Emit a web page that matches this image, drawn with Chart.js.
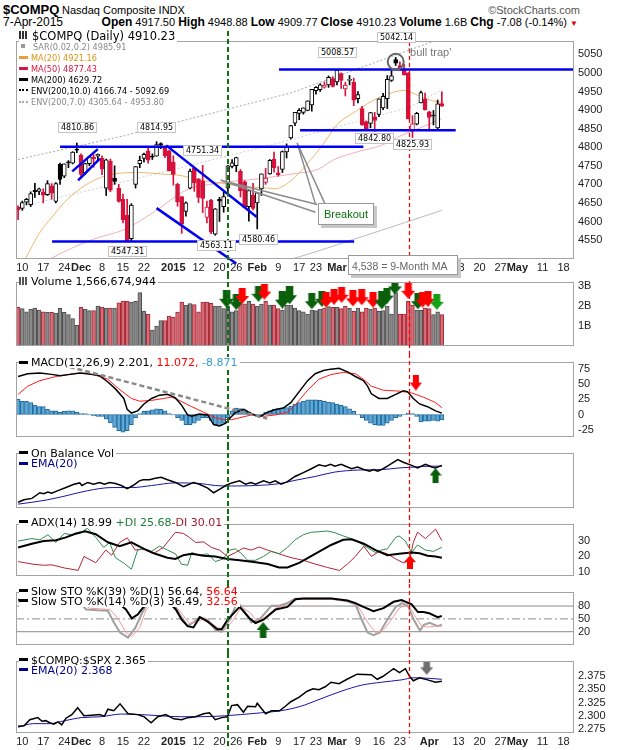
<!DOCTYPE html>
<html>
<head>
<meta charset="utf-8">
<title>$COMPQ Nasdaq Composite</title>
<script src="https://cdn.jsdelivr.net/npm/chart.js@4.4.1/dist/chart.umd.min.js"></script>
<style>
  html, body { margin: 0; padding: 0; background: #fff; }
  #page { position: relative; width: 620px; height: 750px; overflow: hidden; font-family: "Liberation Sans", Arial, sans-serif; color: #000; }
  #page canvas { position: absolute; left: 0; z-index: 1; }
  .t { position: absolute; white-space: nowrap; z-index: 3; }
  .lg { position: absolute; left: 19px; z-index: 3; font-family: "DejaVu Sans", Verdana, sans-serif; font-size: 11px; line-height: 10.3px; white-space: nowrap; }
  .lg > div { display: table; background: #fff; padding-right: 2px; }
  .mk { display: inline-block; width: 9px; height: 3px; margin-right: 3px; vertical-align: middle; position: relative; top: -1px; background: #000; }
  .dt { height: 0; background: none; border-top: 2px dotted #000; }
  .ic { display: inline-block; width: 9px; height: 8px; margin-right: 4px; vertical-align: middle; position: relative; top: -1px;
        background: linear-gradient(to right, #333 0 2px, #fff 2px 3px, #333 3px 5px, #fff 5px 6px, #333 6px 8px, #fff 8px); }
  .vb { position: absolute; z-index: 3; font-family: "DejaVu Sans", Verdana, sans-serif; font-size: 8px; line-height: 9px; padding: 0 2px; border: 1px solid #c4c4c4; background: #fff; }
  .box { position: absolute; z-index: 3; background: #fff; border: 1px solid #999; box-shadow: 3px 3px 0 #c8c8c8; white-space: nowrap; }
</style>
</head>
<body>
<div id="page">
  <div class="t" style="left:3px;top:1px;font-size:13px;font-weight:bold;line-height:18px">$COMPQ</div>
  <div class="t" style="left:62px;top:2px;font-size:11px;line-height:16px">Nasdaq Composite INDX</div>
  <div class="t" style="right:40px;top:2px;font-size:11px;line-height:16px;color:#555">©StockCharts.com</div>
  <div class="t" style="left:3px;top:15px;font-size:12px;line-height:15px">7-Apr-2015</div>
  <div class="t" style="right:42px;top:15px;font-size:11px;line-height:15px"><b style="font-size:12px">Open</b> 4917.50 <b style="font-size:12px">High</b> 4948.88 <b style="font-size:12px">Low</b> 4909.77 <b style="font-size:12px">Close</b> 4910.23 <b style="font-size:12px">Volume</b> 1.6B <b style="font-size:12px">Chg</b> -7.08 (-0.14%) <span style="color:#d00;font-size:8px">▼</span></div>

  <div class="lg" style="top:30.5px;font-size:8.2px;line-height:11.1px">
    <div style="font-size:11.5px"><span class="ic"></span>$COMPQ (Daily) 4910.23</div>
    <div style="color:#8a8a8a"><span class="mk" style="width:4px;height:4px;background:#999;margin:0 8px 0 2px"></span>SAR(0.02,0.2) 4985.91</div>
    <div style="color:#df9417"><span class="mk" style="background:#e8a13a"></span>MA(20) 4921.16</div>
    <div style="color:#d9163f"><span class="mk" style="background:#d9163f"></span>MA(50) 4877.43</div>
    <div><span class="mk"></span>MA(200) 4629.72</div>
    <div><span class="mk dt"></span>ENV(200,10.0) 4166.74 - 5092.69</div>
    <div style="color:#8a8a8a"><span class="mk dt" style="border-color:#aaa"></span>ENV(200,7.0) 4305.64 - 4953.80</div>
  </div>

  <div class="vb" style="left:58px;top:122px">4810.86</div>
  <div class="vb" style="left:137px;top:122px">4814.95</div>
  <div class="vb" style="left:183px;top:145px">4751.34</div>
  <div class="vb" style="left:108px;top:246px">4547.31</div>
  <div class="vb" style="left:197px;top:240px">4563.11</div>
  <div class="vb" style="left:239px;top:234px">4580.46</div>
  <div class="vb" style="left:318px;top:47px">5008.57</div>
  <div class="vb" style="left:377px;top:32px">5042.14</div>
  <div class="vb" style="left:355px;top:133px">4842.80</div>
  <div class="vb" style="left:393px;top:139px">4825.93</div>
  <div class="t" style="left:408px;top:45px;font-size:11px;line-height:14px;color:#777">'bull trap'</div>
  <div class="box" style="left:318px;top:203px;width:54px;height:20px;line-height:20px;text-align:center;font-size:11px;color:#0a6e0a">Breakout</div>
  <div class="box" style="left:348px;top:255px;width:110px;height:20px;line-height:20px;padding-left:3px;box-sizing:border-box;font-size:10.5px;color:#666">4,538 = 9-Month MA</div>

  <div class="lg" style="top:275.5px;line-height:11px">
    <div><span class="ic" style="width:8px;background:linear-gradient(to right,#555 0 2px,#fff 2px 3px,#555 3px 5px,#fff 5px 6px,#555 6px 8px)"></span>Volume 1,566,674,944</div>
  </div>
  <div class="lg" style="top:357px;line-height:11px">
    <div><span class="mk"></span>MACD(12,26,9) 2.201, <span style="color:#f00">11.072,</span>&nbsp;<span style="color:#3a9fd0">-8.871</span></div>
  </div>
  <div class="lg" style="top:448.8px">
    <div><span class="mk"></span>On Balance Vol</div>
    <div style="color:#00008b"><span class="mk" style="background:#00008b"></span>EMA(20)</div>
  </div>
  <div class="lg" style="top:516.5px;line-height:11px">
    <div><span class="mk"></span>ADX(14) 18.99 <span style="color:#1e7b3a">+DI 25.68</span> <span style="color:#a01c2c">-DI 30.01</span></div>
  </div>
  <div class="lg" style="top:586.5px">
    <div><span class="mk"></span>Slow STO %K(39) %D(1) 56.64, <span style="color:#f00">56.64</span></div>
    <div><span class="mk"></span>Slow STO %K(14) %D(3) 36.49, <span style="color:#f00">32.56</span></div>
  </div>
  <div class="lg" style="top:655.5px">
    <div><span class="mk"></span>$COMPQ:$SPX 2.365</div>
    <div style="color:#00008b"><span class="mk" style="background:#00008b"></span>EMA(20) 2.368</div>
  </div>
</div>

<script>
// ---- time axis: trading days from 7-Nov-2014 (0) to 20-May-2015 (132); prices end 7-Apr-2015 (101)
const tickDays  = [1, 6, 11, 15, 20, 25, 30, 37, 43, 48, 52, 57, 62, 67, 71, 76, 81, 86, 91, 98, 105, 110, 115, 119, 125, 130];
const tickNames = ['10','17','24','Dec','8','15','22','2015','12','20','26','Feb','9','17','23','Mar','9','16','23','Apr','13','20','27','May','11','18'];
const boldNames = ['Dec', '2015', 'Feb', 'Mar', 'Apr', 'May'];
const firstSlot = -0.5, lastSlot = 132.5;
const greenDay = 50, redDay = 93.2;

// ---- daily prices
const priorClose = 4639;
const opens = [4638,4635,4652,4645,4684,4681,4679,4672,4696,4654,
  4754,4722,4760,4757,4795,4779,4731,4756,4773,4776,
  4771,4690,4763,4716,4690,4660,4617,4554,4700,4756,
  4770,4790,4776,4776,4808,4797,4790,4760,4700,4667,
  4627,4690,4744,4714,4709,4611,4657,4566,4660,4640,
  4690,4748,4750,4735,4707,4640,4671,4650,4688,4705,
  4728,4768,4731,4740,4787,4825,4865,4891,4894,4899,
  4914,4952,4955,4962,4968,4985,4976,4998,4957,4980,
  4975,4931,4904,4869,4864,4882,4888,4906,4931,4980,
  5036,5020,5010,5000,4845,4862,4919,4930,4895,4886,
  4852,4917.5];
const highs = [4642,4655,4662,4680,4703,4690,4688,4710,4702,4705,
  4757,4755,4764,4788,4811,4782,4757,4776,4780,4782,
  4777,4768,4768,4750,4700,4674,4660,4648,4748,4776,
  4784,4800,4782,4815,4812,4802,4792,4777,4703,4667,
  4653,4741,4744,4716,4751,4655,4660,4635,4665,4679,
  4751,4767,4773,4740,4710,4686,4703,4677,4728,4743,
  4767,4787,4748,4790,4809,4859,4894,4904,4906,4925,
  4956,4963,4971,4976,4992,4990,5009,5000,4975,4993,
  4986,4950,4910,4871,4894,4894,4930,4945,4993,5006,
  5042,5030,5024,5001,4885,4894,4951,4946,4897,4899,
  4927,4948.88];
const lows = [4605,4630,4645,4640,4665,4672,4650,4670,4660,4650,
  4700,4718,4745,4755,4785,4717,4727,4750,4746,4766,
  4726,4670,4680,4700,4652,4596,4547,4548,4690,4745,
  4760,4757,4767,4776,4796,4772,4736,4698,4641,4568,
  4614,4688,4681,4651,4624,4596,4567,4563,4600,4625,
  4668,4744,4734,4666,4637,4601,4631,4580,4670,4700,
  4727,4733,4722,4732,4771,4822,4858,4874,4889,4898,
  4897,4943,4950,4959,4961,4962,4968,4958,4938,4968,
  4912,4919,4859,4849,4852,4843,4882,4901,4904,4977,
  5020,5008,4994,4876,4826,4860,4919,4900,4844,4860,
  4849,4909.77];
const closes = [4632,4651,4660,4675,4680,4688,4671,4702,4676,4702,
  4713,4755,4758,4787,4792,4727,4756,4774,4769,4781,
  4741,4766,4684,4708,4654,4605,4548,4644,4748,4765,
  4781,4765,4773,4807,4807,4777,4736,4727,4653,4593,
  4650,4736,4704,4665,4662,4639,4571,4634,4655,4667,
  4750,4758,4772,4682,4638,4683,4635,4677,4728,4717,
  4765,4744,4726,4788,4801,4858,4894,4899,4906,4925,
  4956,4961,4968,4967,4988,4964,5008,4980,4967,4983,
  4927,4942,4860,4850,4893,4872,4930,4937,4983,4992,
  5026,5011,4995,4877,4863,4891,4947,4901,4880,4884,
  4917,4910.23];

// ---- volume, billions of shares
const volumes = [1.93,1.87,1.71,1.84,1.89,1.80,1.71,1.68,1.68,1.64,
  1.88,1.68,1.57,1.37,1.03,1.93,1.84,1.77,1.77,2.00,
  1.95,1.90,1.90,1.90,2.16,2.25,2.23,2.20,2.23,2.67,
  1.75,1.60,0.80,1.00,1.27,1.27,1.50,1.45,1.70,2.20,
  2.05,2.12,2.07,1.71,2.20,2.20,2.13,2.00,2.00,1.87,
  2.00,1.71,1.77,2.11,2.11,2.23,2.10,2.00,2.10,2.23,
  2.04,2.04,1.87,1.80,2.04,2.04,1.90,1.77,1.71,1.60,
  1.80,1.77,1.84,1.90,1.97,1.93,1.93,1.87,2.00,1.90,
  1.73,1.90,1.71,1.90,1.84,1.90,1.73,1.77,2.00,1.60,
  2.67,1.60,1.60,2.23,2.04,1.80,1.80,1.90,1.87,1.57,
  1.71,1.567];

// ---- price overlays, [day, value]
const ma20 = [[0,4460],[3.4,4535],[5.4,4574],[7.8,4608],[11,4651],[15,4690],[18.9,4715],[22.9,4728],[29.1,4732],[33.9,4728],[38.6,4724],[43.4,4711],[48.2,4704],[53,4695],[59.4,4690],[61.3,4688],[64.5,4705],[67.8,4741],[72.5,4805],[76.1,4862],[79.7,4891],[84.5,4925],[89.2,4947],[92,4953],[95.6,4938],[98.8,4925],[101,4921]];
const ma50 = [[0,4455],[14.1,4535],[18.9,4556],[25.3,4578],[32.3,4625],[40.2,4685],[48.2,4704],[57.3,4715],[65.3,4728],[71.6,4741],[75,4765],[81,4788],[86.6,4805],[91,4830],[96.9,4857],[101,4877]];
const ma200 = [[0,4330],[40,4440],[64.5,4497],[80,4552],[101,4630]];
const env10Upper = [[0,4767],[25.3,4831],[65,4946],[69.8,4966],[101,5093]];
const env7Upper = [[0,4638],[25.3,4707],[60,4805],[93.4,4908],[101,4954]];

// ---- drawn annotations on the price panel
const blueLines = [
  [[10, 4801], [82.3, 4801]],
  [[8.1, 4546], [80.1, 4546]],
  [[62.2, 5009], [132.5, 5009]],
  [[67.2, 4846], [104.3, 4846]],
  [[12.9, 4735], [19.0, 4795]],
  [[14.3, 4711], [19.5, 4769]],
  [[35.3, 4805], [56.9, 4612]],
  [[33.0, 4636], [52.0, 4487]]
];
const breakoutUp = [[70.9, 4646], [66.5, 4812], [73.2, 4646]];
const breakoutLeft = [[71.3, 4646], [48.3, 4711], [70.9, 4625]];
const bullTrap = [90, 5030];

// ---- MACD(12,26,9)
const macdLine = [[0,62.3],[2.3,66.8],[5.2,68.1],[8,65.8],[10,63.6],[12,65.4],[14.7,68.1],[17.5,65.8],[19.4,63.6],[21.4,53.3],[23.2,42],[25.2,26.3],[26,8.3],[27,2.4],[28.5,6],[30,17.3],[31.8,26.3],[33.7,31.7],[35.6,33],[37.5,27.2],[39,15],[40.4,-0.7],[41.4,-3],[43.2,0.6],[45.2,-0.7],[46.6,-16.5],[48,-18.8],[49.5,-14.3],[50.4,-6.6],[51.9,3.8],[53.8,8.3],[55.6,1.5],[57.5,-3.9],[59.5,3.8],[61.3,8.3],[63.2,10.5],[65,19.5],[67,37.5],[69,55.5],[70.8,66.8],[72.8,72.2],[74.5,74.4],[76.5,75.8],[78.5,69.9],[80.4,62.3],[82.3,55.5],[83.3,46.5],[84.2,33.9],[86,26.3],[88,26.3],[90,33],[91.8,38.9],[92.8,37.5],[94.2,26.3],[95.7,17.3],[97.6,12.8],[99.5,6],[101,2.2]];
const macdSignal = [[0,33],[2.3,46.5],[5.2,55.5],[9,62.3],[13,66.8],[15.7,68.1],[18.5,64.5],[21.4,57.8],[24,42],[27,26.3],[29,21.8],[31.8,23.1],[34.7,26.3],[36.6,28.5],[38.4,23.1],[41.4,12.8],[44.2,3.8],[47,-5.3],[49,-8.4],[50.9,-8.4],[52.8,-5.3],[55.6,-0.7],[58.5,-3],[61.3,-0.7],[64.2,3.8],[66,15],[69,39.8],[71.7,57.8],[74.5,65.4],[77.5,69],[80.4,66.8],[82.3,57.8],[84.2,46.5],[87,39.8],[90.8,38.4],[93.8,35.3],[96.6,28.5],[99.5,19.5],[101,11.1]];
const macdHist = [24.9,21.7,21.7,19.5,15,13,12.8,8.3,6,6,
  3.8,5,6,6,3.8,1.5,1.5,-0.7,-2,-3,
  -3,-7.5,-14,-21,-26.4,-29,-26.4,-16.5,-5.3,1.5,
  5,6,7.8,9.2,8.3,6,1.5,-0.7,-5.3,-9.8,
  -16.5,-16.5,-14.3,-9.8,-5.3,-5.3,-9.8,-16.5,-18.8,-14.3,
  -5.3,6,10.5,9.6,6,3.8,-0.7,-3,-3,3.8,
  6,8.3,9.2,10.5,11.4,14,17.2,19.5,21.7,24,
  24,24,23.1,21.7,20.4,19.5,17.2,15,12.8,9.2,
  5,-0.7,-5.3,-9.8,-14.3,-16.5,-17.9,-17.9,-14.3,-9.8,
  -5.3,-3,-0.7,2.4,1.5,-3,-12,-11,-11,-9.8,
  -11,-8.9];
const macdTrend = [[12.3, 78], [59.4, -6.8]];

// ---- On Balance Volume (relative units, panel has no scale)
const obv = [[0,7.4],[1.4,10.7],[3.3,12.4],[5.2,19.7],[6.1,18.4],[7.1,20.7],[8,19],[9.5,22.4],[11.4,26.4],[13.3,30.7],[14.7,32.4],[15.2,29],[16.6,33],[18,30.7],[19.4,33],[20.6,30.7],[21.8,33],[23.2,31.7],[24.6,29],[26,25],[27.4,29],[28.9,35],[29.8,36.4],[31.3,36.4],[32.7,38.4],[34.1,39.7],[35.6,36.4],[37.5,33],[39.4,27.4],[40.4,29.7],[41.8,33],[43.2,30.7],[45.2,25.7],[46.6,19.7],[48,24],[49.5,29],[50.9,32.4],[52.8,35],[54.2,30.7],[55.5,33],[56.6,30.7],[58.5,35],[60,32.4],[61.3,35],[62.7,30.7],[64.2,34],[66,40.7],[68,45.7],[69.9,50.7],[71.7,55.7],[73.2,54],[74.5,56.4],[75.5,54],[77,56.4],[78.5,53],[79.5,50.7],[80.9,53],[82.4,49.7],[83.8,47.4],[84.7,49.7],[85.7,47.4],[87,50.7],[88.5,55.7],[90.5,62.4],[91.8,59],[93.8,55],[95.2,51.7],[97.1,56.4],[98.6,53],[99.5,51.7],[101,55]];
const obvEma = [[0,5],[3.3,7.4],[7.1,10.7],[11.9,16.4],[16.6,22.4],[22.4,26.4],[27.2,26.4],[31.8,29],[37.5,32.4],[43.2,31.7],[47,29],[50.9,28.4],[56.6,29],[62.2,31.4],[66,35.7],[70.8,40.7],[75.5,46.4],[81.2,49],[87,49.7],[90.8,51.7],[94.7,53],[98.6,54],[101,54]];

// ---- ADX(14)
const adx = [[0,25.6],[3.3,28],[6.1,29.7],[9,30.2],[11.4,32.1],[13.8,34.6],[16,36],[18.5,34.1],[21.4,28.9],[24.2,26.4],[27,28.9],[30,24.7],[32.7,21.5],[35.6,19],[37.5,18.2],[39.4,20.6],[41.4,21.5],[44.2,20.3],[47,19.8],[49.9,18.2],[52.8,17.3],[56.6,16],[59.5,14.9],[62.2,12.7],[64.2,12.7],[67,15.7],[70.8,21.5],[74.6,27.2],[77.5,30.5],[79.5,30.8],[82.4,28],[85.2,23.9],[88,20.6],[90.8,21.5],[93.8,22.3],[95.7,21.8],[97.6,20.3],[99.5,19.8],[101,19]];
const plusDI = [[0,29.7],[3.3,31.3],[5.2,30.5],[7.1,33.8],[9,28.8],[11,34.6],[12.8,33.8],[14.7,34.6],[16.5,38],[18.5,32.1],[20.4,25.6],[21.8,28.8],[23.2,19],[25.1,15.7],[27,11.6],[28.5,23.9],[30,24.7],[31.8,23.1],[33.7,26.4],[35.6,23.9],[37.5,21.5],[38.9,14.9],[40.4,14.1],[41.4,22.3],[43.2,20.6],[45.2,21.5],[47,16.5],[48.9,18.2],[50.4,23.9],[51.8,24.7],[53.3,21.5],[54.7,17.3],[56.6,17.3],[58.5,19.8],[60.3,23.1],[62.2,21.5],[64.2,25.6],[66,30.5],[68,33.8],[69.9,35.4],[71.7,35.7],[73.7,36.2],[75.5,35.1],[77.5,33],[79.4,31.3],[81.3,28.8],[83.2,25.6],[85.2,22.3],[86.6,23.9],[88,24.7],[90,32.1],[90.8,33],[92.3,29.7],[93.8,22.3],[95.2,27.2],[97.1,23.9],[99,23.1],[101,25.7]];
const minusDI = [[0,16.5],[3.3,14.9],[6.1,14.1],[8,14.4],[11,12.4],[14.3,10.8],[15.7,19.8],[18.5,15.7],[20.9,23.9],[22.3,20.6],[24.2,28.8],[26,31.8],[27.9,23.9],[29.8,24.7],[32.2,21.5],[34.6,25.6],[37.5,35.4],[39.4,34.6],[40.8,32.1],[42.3,28.8],[44.2,29.2],[46.1,25.6],[48,23.9],[49.9,19.8],[51.8,22.3],[53.7,25.2],[55.6,23.9],[57.5,25.9],[59.4,23.9],[61.3,22.3],[63.2,20.6],[65.1,19],[68,17.3],[70.8,14.9],[73.7,12.7],[76.6,10.8],[78.5,14.9],[80.4,19.8],[82.4,26.4],[84.2,19.8],[86.1,23.1],[88,21.5],[90,18.2],[91.8,15.7],[93.3,17.3],[94.2,28.8],[95.2,35.4],[97.1,31.3],[99.5,37.4],[101,30]];

// ---- Slow stochastics
const stoK39 = [[0,95],[10,97],[20,92],[24.5,82],[25.7,72],[27.1,51.2],[28.5,60],[29.5,73],[31,90],[36,88],[37.6,72],[39,48],[40.4,33],[41.8,30],[43.3,54],[45.2,43.4],[47.5,25.5],[48.5,25.5],[49.9,48],[52.8,78],[55.2,51],[56.6,40.4],[58.5,48],[61.4,72],[64.2,78],[66.1,96],[68,97.9],[74.7,97.9],[78.5,93],[80.4,87],[82.3,78],[84.7,68],[87.1,75],[89.5,90],[91.4,94],[93.8,84],[95.3,66],[96.6,66],[98,63],[100,54],[101,56.6]];
const stoK14 = [[0,90],[10,92],[15,85],[16.2,72],[19,70],[21.4,69],[22.8,42],[24.3,18],[26.2,6.3],[28,30],[29.5,63],[31,88],[36,90],[37.5,80],[38.5,60],[40.4,33],[41.8,42],[43.3,54],[45.2,48],[47,24],[48.5,19.5],[50.4,48],[52.3,90],[53.7,72],[55.6,42],[57.5,48],[60.4,81],[62.3,81],[64.2,87],[66,97],[74.7,97],[78.5,91],[80.4,84],[81.9,48],[83.3,18],[84.7,12],[86.2,18],[88,48],[90,78],[91.5,87],[92.9,81],[94.3,48],[95.8,22.5],[96.7,36],[98.1,41],[100,33],[101,36.5]];
const stoD3 = [[0,90],[10,92],[15,88],[17,75],[21.9,72],[23.8,51],[25.7,18],[27.1,9],[29,30],[30.4,69],[32,88],[36,90],[38.5,69],[40.8,39],[42.8,45],[44.7,51],[47.5,30],[49.4,24],[51.3,48],[53.2,78],[55.1,66],[57,45],[58.9,54],[61.4,75],[64.2,84],[66.5,96],[74.7,96],[79.5,90],[81.3,75],[83.3,42],[85.2,18],[87,24],[89,48],[90.8,75],[92.9,84],[94.8,54],[96.2,33],[97.7,31],[99.5,33],[101,32.6]];

// ---- $COMPQ:$SPX ratio
const ratio = [[0,2.2807],[1.4,2.2819],[2.8,2.293],[4.7,2.2969],[5.7,2.2902],[6.6,2.2913],[7.5,2.2874],[8.5,2.2846],[9.5,2.2891],[10.4,2.2835],[11.4,2.2958],[12.8,2.3025],[14.2,2.3153],[15.7,2.3003],[17.6,2.3014],[19.4,2.3025],[20.6,2.2997],[21.4,2.3125],[22.8,2.3097],[24.3,2.3226],[26.2,2.3042],[28.5,2.3025],[30,2.2986],[31.7,2.2874],[33.3,2.2986],[35.2,2.3025],[37.1,2.2947],[39,2.293],[40.4,2.2969],[42.3,2.2986],[44.2,2.3042],[45.6,2.3058],[47,2.293],[48.5,2.2969],[49.9,2.2986],[50.9,2.3193],[52.3,2.321],[53.7,2.307],[54.7,2.3181],[56.6,2.317],[57,2.3237],[59,2.3042],[60.4,2.3097],[62.3,2.3097],[63.7,2.3181],[65,2.3265],[67,2.3349],[68.9,2.346],[70.3,2.3505],[71.7,2.3488],[73.2,2.3544],[74.6,2.3628],[76.5,2.36],[78.4,2.3683],[80.8,2.3778],[84.2,2.3767],[85.6,2.3683],[87,2.3739],[88.5,2.3823],[89.5,2.3879],[90.9,2.3806],[92.3,2.3879],[93.3,2.3739],[94.2,2.3655],[95.7,2.3711],[97.6,2.3672],[99.5,2.3628],[101,2.3644]];
const ratioEma = [[0,2.279],[3.6,2.2857],[7.4,2.2857],[11.2,2.2913],[15,2.2969],[19.8,2.2986],[24.6,2.3036],[29.4,2.3025],[34,2.3003],[38.8,2.2986],[43.5,2.2986],[49.2,2.3003],[53,2.3025],[57.8,2.3058],[62.6,2.3097],[67.4,2.3181],[72.2,2.3321],[77,2.346],[81.8,2.3572],[86.6,2.3628],[91.4,2.3672],[94.2,2.3711],[98,2.37],[101,2.3683]];

// ---- signal arrows: day, value, kind
const volArrowDays = [49.7,52,53.4,57.3,58.7,63,64.7,70,72.4,73.4,75.3,77.1,79.8,81.9,84.6,86.7,87.9,89.8,93,95.3,96.4,97.7,99.8];
const volArrowAt   = [2.36,2.2,2.5,2.61,2.72,2.32,2.54,2.24,2.36,2.32,2.46,2.56,2.38,2.44,2.32,2.28,2.52,2.98,2.76,2.24,2.32,2.36,2.21];
const volArrowKind = ['DG','dg','r','dg','r','DG','DG','dg','dg','r','r','r','r','r','r','DG','dg','dg','r','dg','r','r','g'];
const macdArrow = [94.8, 52.3];
const obvArrow = [99.5, 42];
const adxArrow = [93.4, 16.1];
const stoArrow = [58.4, 24];
const ratioArrow = [97.4, 2.3906];

// ================= drawing =================
const page = document.getElementById('page');
const P = a => a.map(([x, y]) => ({ x, y }));
const RED = '#d6123c';

const candleCol = closes.map((c, i) => c >= (i ? closes[i - 1] : priorClose) ? '#000000' : RED);
const bodyFill = closes.map((c, i) => c > opens[i] ? '#ffffff' : candleCol[i]);

function arrowImg(color, up, w, h) {
  const c = document.createElement('canvas');
  c.width = w; c.height = h;
  const g = c.getContext('2d');
  const s = w * 0.5, head = h * 0.5;
  const pts = [[(w - s) / 2, 0], [(w + s) / 2, 0], [(w + s) / 2, h - head], [w, h - head], [w / 2, h], [0, h - head], [(w - s) / 2, h - head]];
  g.fillStyle = color;
  g.beginPath();
  pts.forEach(([px, py], i) => {
    const yy = up ? h - py : py;
    if (i) g.lineTo(px, yy); else g.moveTo(px, yy);
  });
  g.closePath();
  g.fill();
  return c;
}
const arrowStyles = {
  DG: arrowImg('#0a600a', false, 15, 18),
  dg: arrowImg('#0a600a', false, 14, 16),
  g: arrowImg('#14a014', false, 14, 16),
  r: arrowImg('#ff0000', false, 14, 16)
};

const frame = {
  id: 'frame',
  afterDatasetsDraw(chart, args, o) {
    const { ctx, chartArea: a, scales: { x } } = chart;
    ctx.save();
    ctx.strokeStyle = '#a3a3a3';
    ctx.lineWidth = 1;
    ctx.strokeRect(a.left + 0.5, a.top + 0.5, a.right - a.left - 1, a.bottom - a.top - 1);
    const gx = Math.round(x.getPixelForValue(greenDay));
    ctx.setLineDash([5, 3]);
    ctx.lineWidth = 2;
    ctx.strokeStyle = '#0e700e';
    ctx.beginPath(); ctx.moveTo(gx, o.greenTop || 0); ctx.lineTo(gx, o.greenBottom || chart.height); ctx.stroke();
    const rx = Math.round(x.getPixelForValue(redDay)) + 0.5;
    ctx.setLineDash([4, 3]);
    ctx.lineWidth = 1.2;
    ctx.strokeStyle = '#ff0000';
    ctx.beginPath(); ctx.moveTo(rx, o.redTop || 0); ctx.lineTo(rx, o.redBottom || chart.height); ctx.stroke();
    ctx.restore();
  }
};

function xAxis(h) {
  return {
    type: 'linear', min: firstSlot, max: lastSlot, offset: false,
    display: h > 0,
    grid: { display: false, drawTicks: false },
    border: { display: false },
    ticks: {
      autoSkip: false, maxRotation: 0, padding: 2, color: '#222',
      font: c => ({ family: 'Liberation Sans', size: 11, weight: boldNames.includes(tickNames[c.index]) ? 'bold' : 'normal' }),
      callback: v => tickNames[tickDays.indexOf(v)]
    },
    afterBuildTicks: s => { s.ticks = tickDays.map(v => ({ value: v })); },
    afterFit: s => { s.height = h; s.paddingLeft = 0; s.paddingRight = 0; }
  };
}

function yAxis(min, max, ticks, fmt) {
  return {
    position: 'right', min, max,
    grid: { display: false, drawTicks: false },
    border: { display: false },
    ticks: { autoSkip: false, padding: 4, color: '#222', font: { family: 'Liberation Sans', size: 11 }, callback: fmt || (v => v) },
    afterBuildTicks: s => { s.ticks = ticks.map(v => ({ value: v })); },
    afterFit: s => { s.width = 46; s.paddingTop = 0; s.paddingBottom = 0; }
  };
}

function line(pts, color, width, more) {
  return Object.assign({ type: 'line', data: P(pts), borderColor: color, borderWidth: width,
    pointRadius: 0, fill: false, tension: 0, order: 3 }, more || {});
}
function level(v, color, dash) {
  return line([[firstSlot, v], [lastSlot, v]], color, 1, { borderDash: dash || [], order: 8 });
}
function marks(days, vals, styles) {
  return { type: 'line', showLine: false, order: -5, data: days.map((d, i) => ({ x: d, y: vals[i] })), pointStyle: styles, pointRadius: 7 };
}

function panel(top, height, axisH, y, datasets, frameOpts) {
  const cv = document.createElement('canvas');
  cv.width = 620; cv.height = height;
  cv.style.top = top + 'px';
  page.appendChild(cv);
  return new Chart(cv, {
    type: 'bar',
    data: { datasets },
    options: {
      responsive: false, animation: false, events: [],
      layout: { padding: { left: 16, right: 0, top: 0, bottom: 0 } },
      plugins: { legend: { display: false }, tooltip: { enabled: false }, frame: frameOpts || {} },
      scales: { x: xAxis(axisH), y }
    },
    plugins: [frame]
  });
}

const smooth = { cubicInterpolationMode: 'monotone' };

// price panel
panel(31, 243, 15, yAxis(4499, 5086, [4550, 4600, 4650, 4700, 4750, 4800, 4850, 4900, 4950, 5000, 5050]), [
  ...blueLines.map(s => line(s, '#0000f2', 2.5, { order: -2, clip: false })),
  line(breakoutUp, '#8c8c8c', 1.5, { order: -1 }),
  line(breakoutLeft, '#8c8c8c', 1.5, { order: -1 }),
  { type: 'line', showLine: false, order: -3, data: [{ x: bullTrap[0], y: bullTrap[1] }], pointRadius: 8,
    pointBorderWidth: 2, pointBorderColor: '#666', pointBackgroundColor: 'rgba(0,0,0,0)' },
  { type: 'bar', order: 0, grouped: false, barThickness: 4, borderWidth: 1, borderSkipped: false, minBarLength: 1,
    data: opens.map((o, i) => ({ x: i, y: [Math.min(o, closes[i]), Math.max(o, closes[i])] })),
    backgroundColor: bodyFill, borderColor: candleCol },
  { type: 'bar', order: 1, grouped: false, barThickness: 1,
    data: highs.map((h, i) => ({ x: i, y: [lows[i], h] })), backgroundColor: candleCol },
  line(ma20, 'rgba(232,160,60,0.75)', 1, smooth),
  line(ma50, 'rgba(226,80,95,0.45)', 1, smooth),
  line(ma200, 'rgba(140,140,140,0.6)', 1, smooth),
  line(env10Upper, '#a8a8a8', 1, { borderDash: [2, 2] }),
  line(env7Upper, '#cfcfcf', 1, { borderDash: [2, 2] })
], { redTop: 11 });

// volume
panel(274, 80, 0, yAxis(0, 3.2, [1, 2, 3], v => v + 'B'), [
  marks(volArrowDays, volArrowAt, volArrowKind.map(k => arrowStyles[k])),
  { type: 'bar', grouped: false, barThickness: 3.8, borderWidth: 1, borderSkipped: false, order: 1,
    data: volumes.map((v, i) => ({ x: i, y: v })),
    backgroundColor: candleCol.map(c => c === RED ? '#d86b74' : '#8a8a8a'),
    borderColor: candleCol.map(c => c === RED ? '#a3283a' : '#4d4d4d') }
]);

// MACD
panel(354, 91, 0, yAxis(-36.9, 86.1, [-25, 0, 25, 50, 75]), [
  marks([macdArrow[0]], [macdArrow[1]], [arrowImg('#ff0000', false, 12, 16)]),
  line(macdTrend, '#8a8a8a', 2.5, { borderDash: [5, 3], order: -1 }),
  line(macdLine, '#000', 1.5, { order: 0 }),
  line(macdSignal, '#ff1a1a', 1, { order: 1 }),
  { type: 'bar', grouped: false, barThickness: 4, borderWidth: 1, borderSkipped: false, order: 4,
    data: macdHist.map((v, i) => ({ x: i, y: v })), backgroundColor: '#5ca8d6', borderColor: '#22689a' }
]);

// On Balance Volume
panel(445, 71, 0, yAxis(0, 71, []), [
  marks([obvArrow[0]], [obvArrow[1]], [arrowImg('#0a600a', true, 12, 15)]),
  line(obv, '#000', 1.5, { order: 0 }),
  line(obvEma, '#1616a8', 1, Object.assign({ order: 1 }, smooth))
]);

// ADX
panel(516, 68, 0, yAxis(7.2, 40.7, [10, 20, 30]), [
  marks([adxArrow[0]], [adxArrow[1]], [arrowImg('#ff0000', true, 12, 14)]),
  line(adx, '#000', 2, { order: 0 }),
  line(plusDI, '#2f8a4c', 1, { order: 1 }),
  line(minusDI, '#b52335', 1, { order: 2 })
]);

// Slow stochastics
panel(584, 69, 0, yAxis(-11.1, 112.9, [20, 50, 80]), [
  marks([stoArrow[0]], [stoArrow[1]], [arrowImg('#0a600a', true, 13, 16)]),
  level(80, '#8a8a8a'),
  level(20, '#8a8a8a'),
  level(50, '#8a8a8a', [8, 3, 2, 3]),
  line(stoK39, '#000', 2, { order: 0 }),
  line(stoK14, '#a0a0a0', 2, { order: 2 }),
  line(stoD3, '#f29a9a', 1, { order: 1 })
]);

// $COMPQ:$SPX
panel(653, 97, 17, yAxis(2.2683, 2.4023, [2.275, 2.3, 2.325, 2.35, 2.375], v => v.toFixed(3)), [
  marks([ratioArrow[0]], [ratioArrow[1]], [arrowImg('#6e6e6e', false, 13, 15)]),
  line(ratio, '#000', 1.5, { order: 0 }),
  line(ratioEma, '#1616a8', 1, Object.assign({ order: 1 }, smooth))
], { greenBottom: 95, redBottom: 85 });
</script>
</body>
</html>
